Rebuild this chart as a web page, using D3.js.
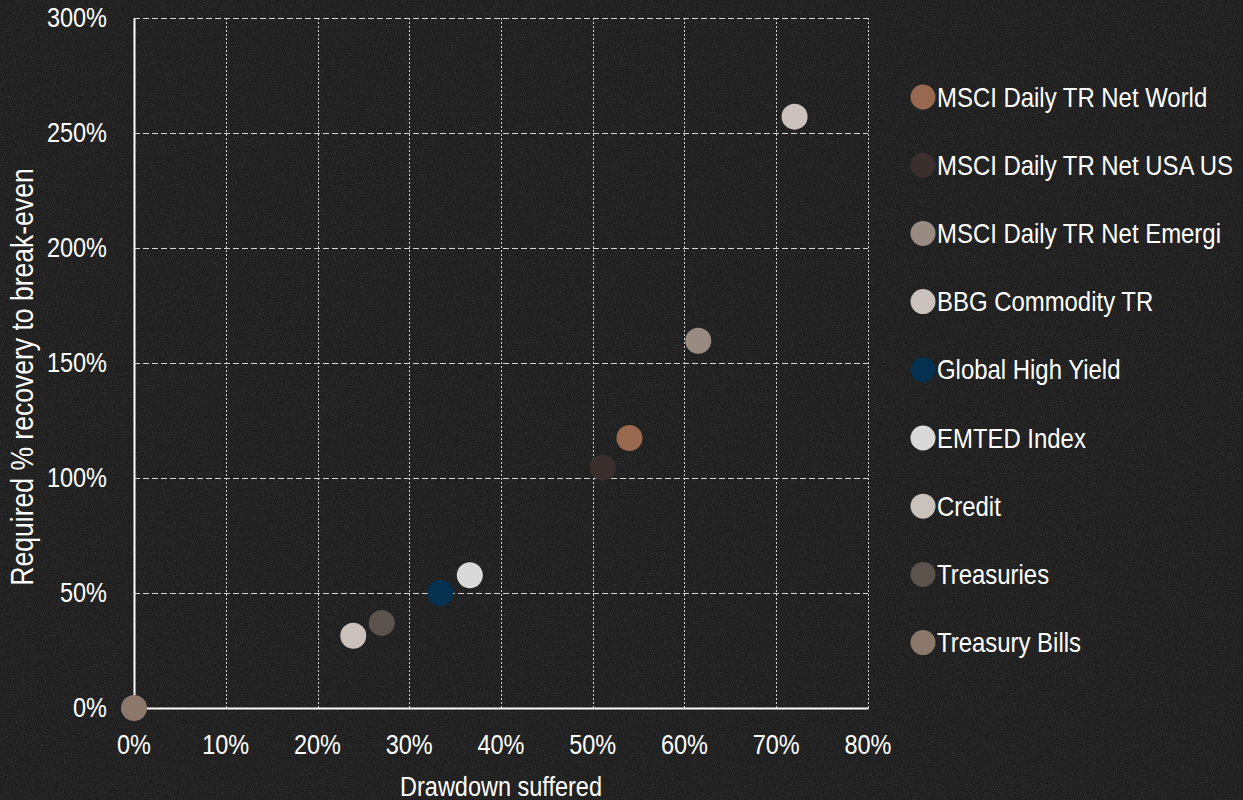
<!DOCTYPE html>
<html>
<head>
<meta charset="utf-8">
<script src="https://cdn.jsdelivr.net/npm/d3@7"></script>
<style>
  html, body { margin: 0; padding: 0; background: #1e1e1e; }
  svg { display: block; }
  text { font-family: "Liberation Sans", Arial, sans-serif; fill: #ffffff; }
</style>
</head>
<body>
<svg id="chart" width="1243" height="800"></svg>
<script>
// Asset classes, worst drawdown suffered and the gain needed to recover from it
const seriesNames = [
  "MSCI Daily TR Net World",
  "MSCI Daily TR Net USA US",
  "MSCI Daily TR Net Emergi",
  "BBG Commodity TR",
  "Global High Yield",
  "EMTED Index",
  "Credit",
  "Treasuries",
  "Treasury Bills"
];
const drawdown = [0.540, 0.511, 0.615, 0.720, 0.334, 0.366, 0.239, 0.270, 0.000];
const recovery = [1.174, 1.045, 1.597, 2.571, 0.500, 0.577, 0.314, 0.370, 0.000];
const seriesColors = ["#98694f", "#3a2f2c", "#998b82", "#cbc2bd", "#06304f",
                      "#d9d9d9", "#cbc1bb", "#5b524c", "#8c786b"];

const xTicks = [0, 0.1, 0.2, 0.3, 0.4, 0.5, 0.6, 0.7, 0.8];
const yTicks = [0, 0.5, 1.0, 1.5, 2.0, 2.5, 3.0];
const xTitle = "Drawdown suffered";
const yTitle = "Required % recovery to break-even";

const W = 1243, H = 800;
const plot = { left: 134, right: 868, top: 18, bottom: 708 };

const svg = d3.select("#chart");

// textured dark backdrop
const defs = svg.append("defs");
const grain = defs.append("filter").attr("id", "grain")
  .attr("x", 0).attr("y", 0).attr("width", "100%").attr("height", "100%");
grain.append("feTurbulence").attr("type", "fractalNoise")
  .attr("baseFrequency", 0.9).attr("numOctaves", 2).attr("seed", 7).attr("result", "n");
grain.append("feColorMatrix").attr("type", "matrix")
  .attr("values", "0 0 0 0 0.5  0 0 0 0 0.5  0 0 0 0 0.5  0 0 0 1.2 -0.45");
svg.append("rect").attr("width", W).attr("height", H).attr("fill", "#1e1e1e");
svg.append("rect").attr("width", W).attr("height", H)
  .attr("filter", "url(#grain)").attr("opacity", 0.18);

const x = d3.scaleLinear().domain([0, 0.8]).range([plot.left, plot.right]);
const y = d3.scaleLinear().domain([0, 3]).range([plot.bottom, plot.top]);
const pct = d3.format(".0%");

// narrow, tall type like the original renderer
const SX = 0.87;
function label(g, tx, ty, str, anchor, size, extra) {
  return g.append("text")
    .attr("transform", `translate(${tx},${ty})${extra || ""} scale(${SX},1)`)
    .attr("text-anchor", anchor)
    .style("font-size", size + "px")
    .text(str);
}

// gridlines
const grid = svg.append("g");
grid.selectAll("line.h").data(yTicks.filter(d => d > 0)).join("line")
  .attr("x1", plot.left).attr("x2", plot.right)
  .attr("y1", d => Math.round(y(d)) + 0.5).attr("y2", d => Math.round(y(d)) + 0.5)
  .attr("stroke", "#d4d4d4").attr("stroke-width", 1)
  .attr("stroke-dasharray", "6,3");
grid.selectAll("line.v").data(xTicks.filter(d => d > 0)).join("line")
  .attr("y1", plot.top).attr("y2", plot.bottom)
  .attr("x1", d => Math.round(x(d)) + 0.5).attr("x2", d => Math.round(x(d)) + 0.5)
  .attr("stroke", "#d4d4d4").attr("stroke-width", 1)
  .attr("stroke-dasharray", "2,2");

// axes
const xAxis = svg.append("g").attr("transform", `translate(0,${plot.bottom})`)
  .call(d3.axisBottom(x).tickValues(xTicks).tickSize(0).tickFormat(() => ""));
const yAxis = svg.append("g").attr("transform", `translate(${plot.left},0)`)
  .call(d3.axisLeft(y).tickValues(yTicks).tickSize(0).tickFormat(() => ""));
[xAxis, yAxis].forEach(a => a.select(".domain").attr("stroke", "#ffffff").attr("stroke-width", 2));

const labels = svg.append("g");
xTicks.forEach(t => label(labels, x(t), 754, pct(t), "middle", 27));
yTicks.forEach(t => label(labels, 107, y(t) + 9, pct(t), "end", 27));
label(labels, (plot.left + plot.right) / 2, 796, xTitle, "middle", 27);
label(labels, 33, 377, yTitle, "middle", 30.5, " rotate(-90)");

// points
svg.append("g").selectAll("circle").data(seriesNames).join("circle")
  .attr("cx", (d, i) => x(drawdown[i]))
  .attr("cy", (d, i) => y(recovery[i]))
  .attr("r", 13)
  .attr("fill", (d, i) => seriesColors[i]);

// legend
const legend = svg.append("g");
seriesNames.forEach((name, i) => {
  const ly = 97 + i * 68.2;
  legend.append("circle").attr("cx", 923).attr("cy", ly).attr("r", 12.5)
    .attr("fill", seriesColors[i]);
  label(legend, 937, ly + 9.5, name, "start", 27.5);
});
</script>
</body>
</html>
